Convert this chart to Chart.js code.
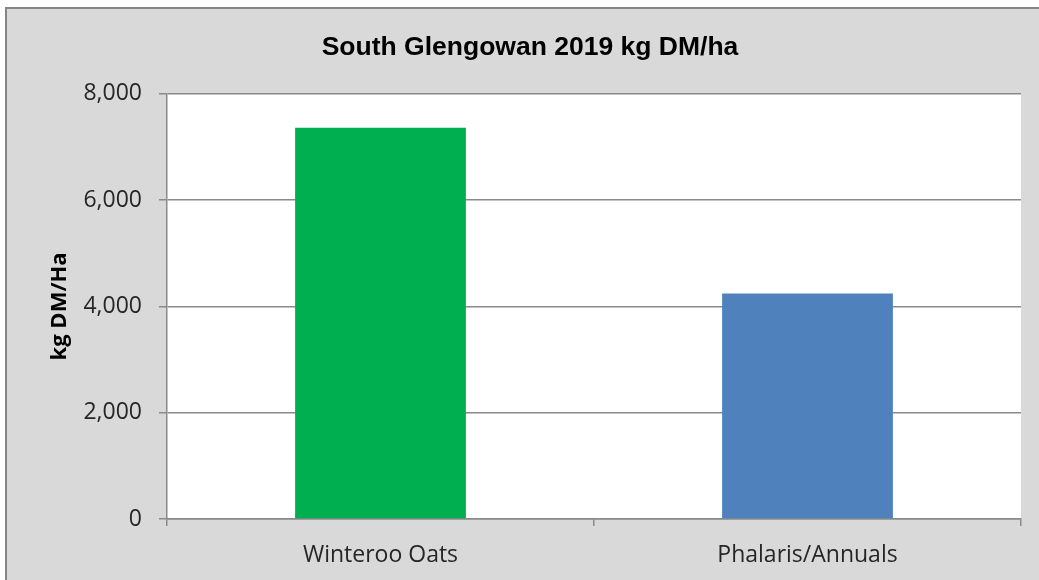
<!DOCTYPE html>
<html>
<head>
<meta charset="utf-8">
<script src="https://cdn.jsdelivr.net/npm/chart.js@4/dist/chart.umd.min.js"></script>
<style>
  html, body { margin: 0; padding: 0; background: #ffffff; overflow: hidden; }
  #frame {
    position: absolute; left: 5px; top: 7px;
    width: 1032px; height: 571px;
    border-left: 2px solid #858585; border-top: 2px solid #858585;
    background: #d9d9d9;
  }
  canvas { display: block; }
</style>
</head>
<body>
<div id="frame"><canvas id="chart" width="1032" height="571"></canvas></div>
<script>
const categories = ["Winteroo Oats", "Phalaris/Annuals"];
const yieldValues = [7360, 4245];
const barColours = ["#00b050", "#4f81bd"];
const yTicks = [0, 2000, 4000, 6000, 8000];

// white plot area on the grey chart background
const plotBackground = {
  id: "plotBackground",
  beforeDraw(chart) {
    const a = chart.chartArea;
    const ctx = chart.ctx;
    ctx.save();
    ctx.fillStyle = "#ffffff";
    ctx.fillRect(a.left, a.top, a.right - a.left, a.bottom - a.top);
    ctx.restore();
  },
};

const gridGrey = "#8a8a8a";
const tickFont = { family: "'Open Sans', sans-serif", size: 23 };

new Chart(document.getElementById("chart").getContext("2d"), {
  type: "bar",
  data: {
    labels: categories,
    datasets: [
      {
        label: "kg DM/Ha",
        data: yieldValues,
        backgroundColor: barColours,
        borderWidth: 0,
        categoryPercentage: 1,
        barPercentage: 0.4,
      },
    ],
  },
  options: {
    responsive: false,
    animation: false,
    layout: { padding: { left: 32, right: 18, top: 0, bottom: 0 } },
    plugins: {
      legend: { display: false },
      tooltip: { enabled: false },
      title: {
        display: true,
        text: "South Glengowan 2019 kg DM/ha",
        color: "#000000",
        font: { family: "'Liberation Sans', Arial, sans-serif", size: 26.5, weight: "bold" },
        padding: { top: 23, bottom: 30 },
      },
    },
    scales: {
      x: {
        offset: true,
        grid: {
          offset: true,
          drawOnChartArea: false,
          drawTicks: true,
          tickLength: 7,
          color: gridGrey,
          lineWidth: 1.5,
        },
        border: { color: gridGrey, width: 1.5 },
        ticks: { color: "#262626", font: tickFont, padding: 16 },
        afterFit(scale) { scale.height = 61; },
      },
      y: {
        min: 0,
        max: 8000,
        afterBuildTicks(scale) { scale.ticks = yTicks.map((v) => ({ value: v })); },
        grid: { color: gridGrey, lineWidth: 1.5, tickLength: 8 },
        border: { color: gridGrey, width: 1.5 },
        ticks: { color: "#262626", font: tickFont, padding: 17 },
        title: {
          display: true,
          text: "kg DM/Ha",
          color: "#000000",
          font: { family: "'Open Sans', sans-serif", size: 22, weight: "bold" },
          padding: { top: 8, bottom: 0 },
        },
        afterFit(scale) { scale.width = 128; },
      },
    },
  },
  plugins: [plotBackground],
});
</script>
</body>
</html>
